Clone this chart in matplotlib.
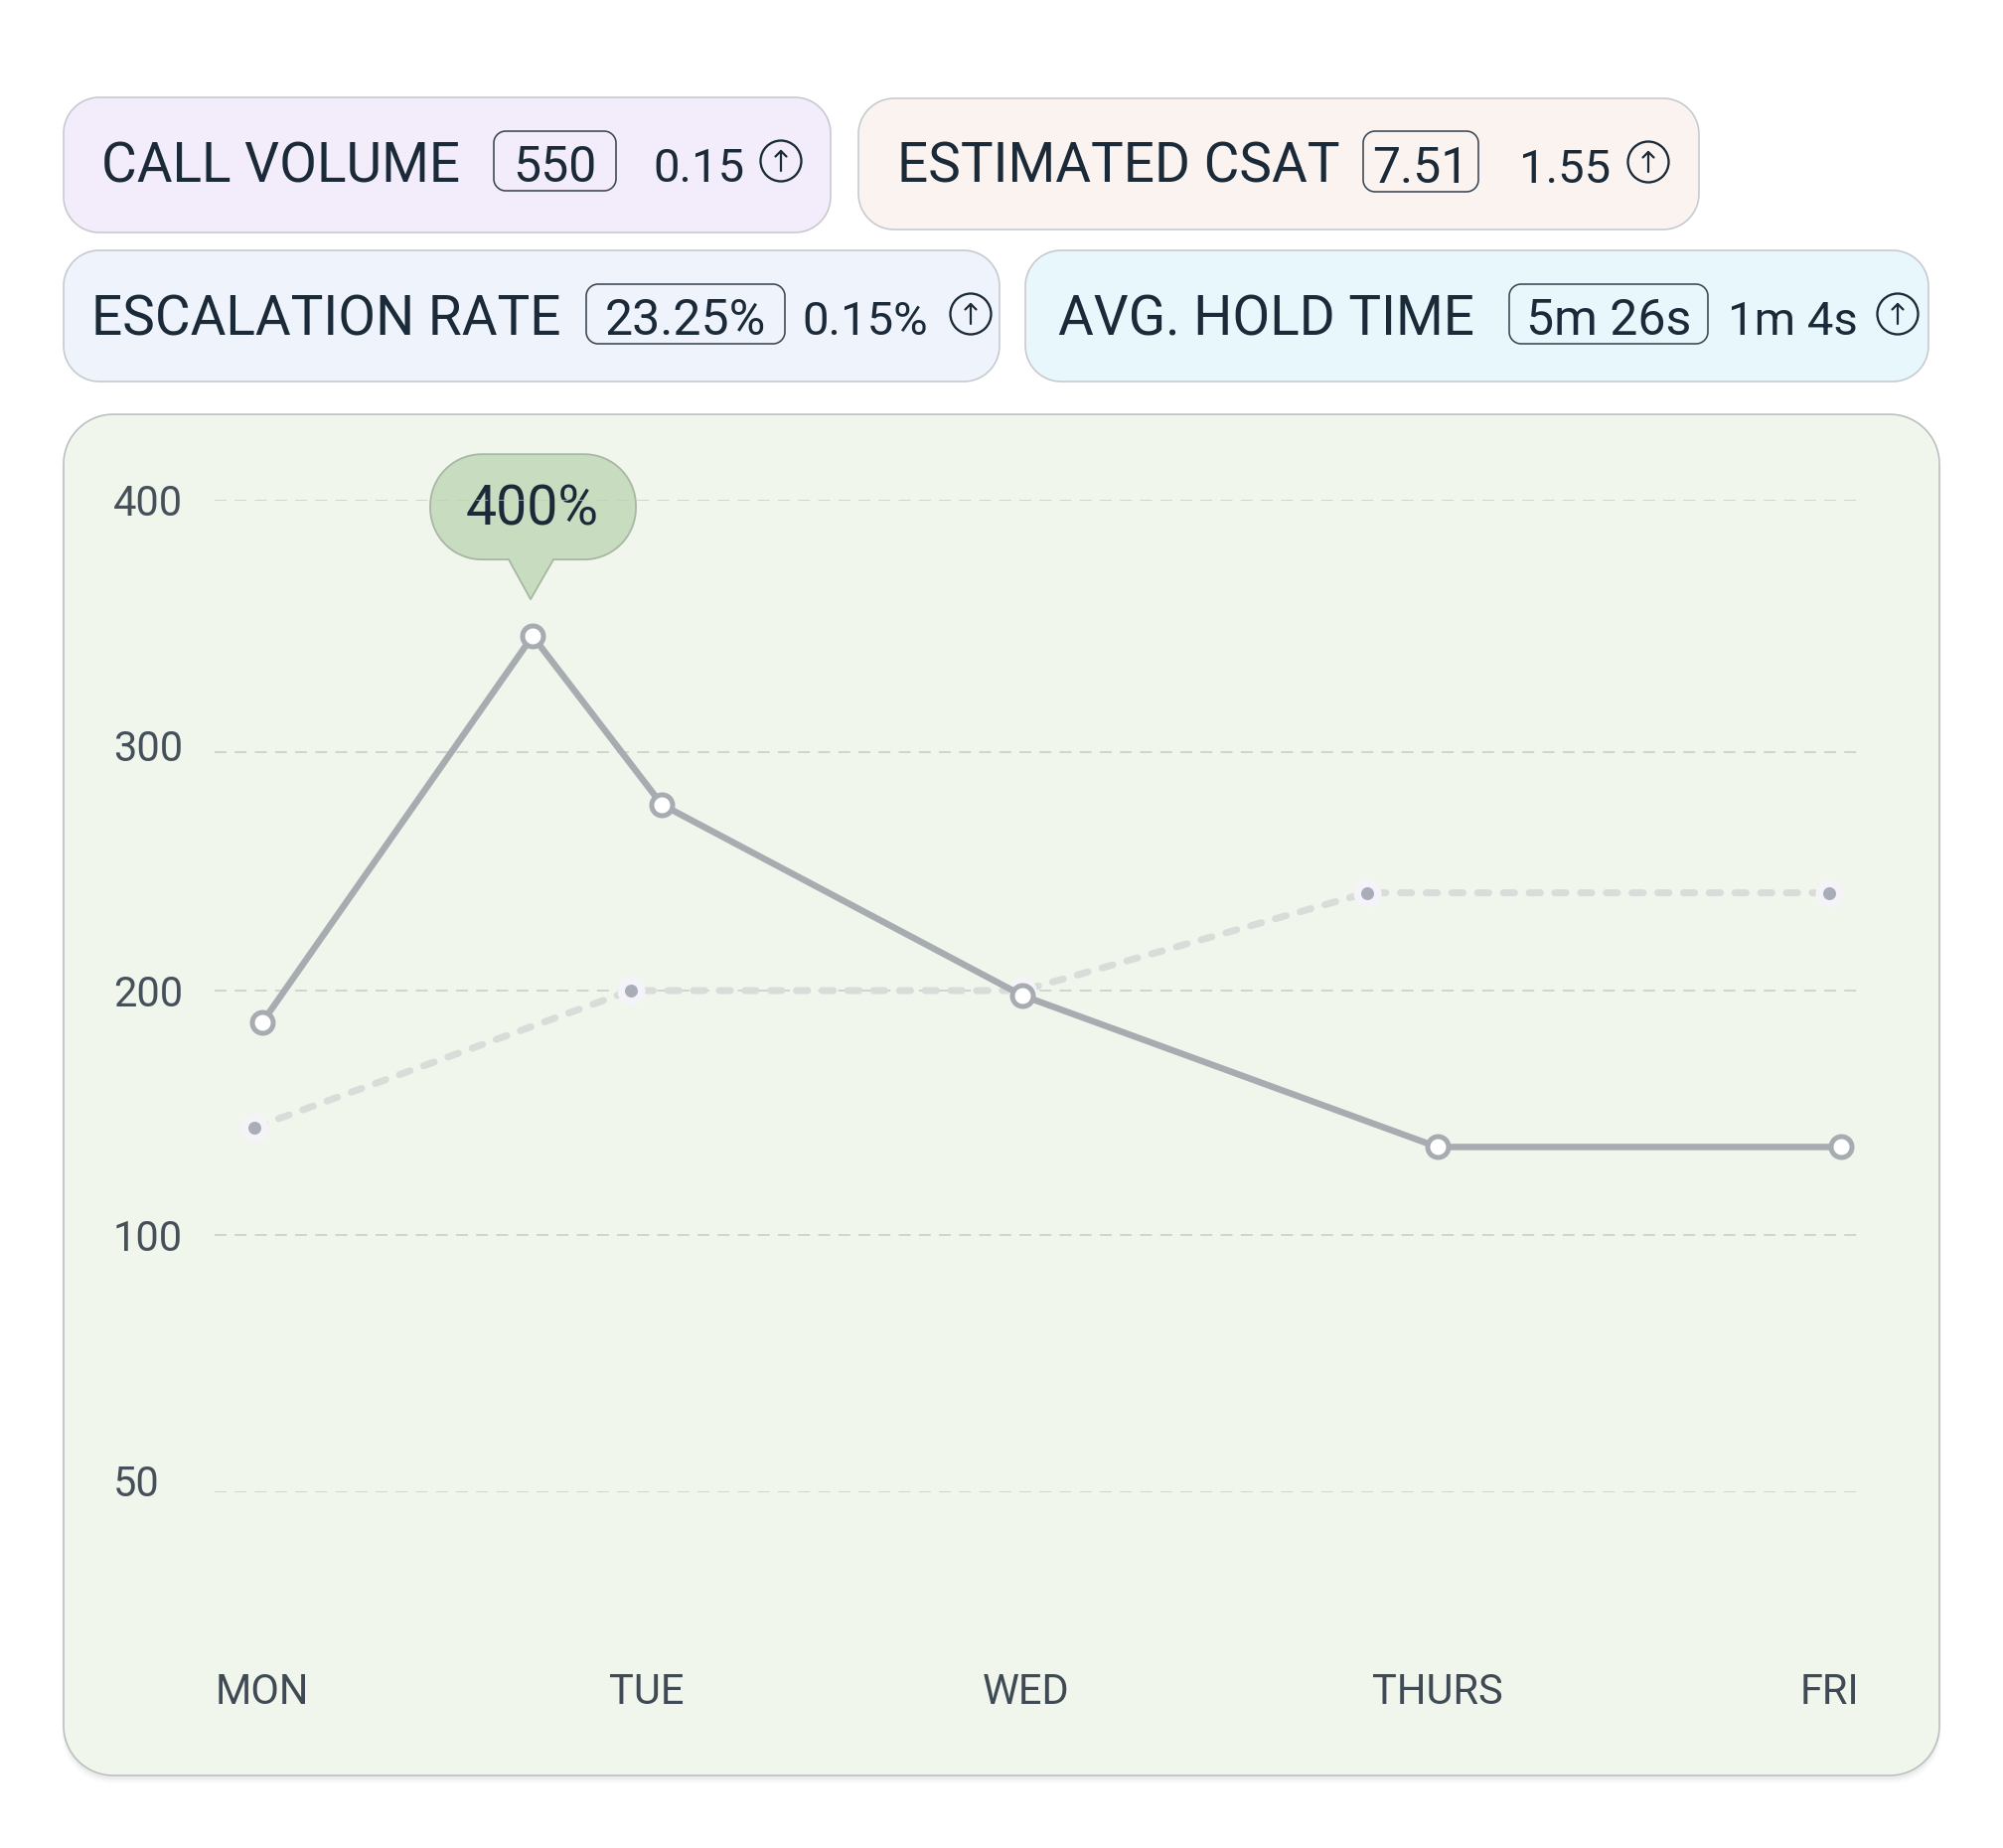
import numpy as np
import matplotlib
matplotlib.use('Agg')
import matplotlib.pyplot as plt
from matplotlib.patches import Polygon, Circle

plt.rcParams['font.family'] = ['Roboto', 'DejaVu Sans']

# ---------------- data ----------------
kpi_labels = ['CALL VOLUME', 'ESTIMATED CSAT', 'ESCALATION RATE', 'AVG. HOLD TIME']
kpi_values = ['550', '7.51', '23.25%', '5m 26s']
kpi_deltas = ['0.15', '1.55', '0.15%', '1m 4s']

days = ['MON', 'TUE', 'WED', 'THURS', 'FRI']
day_label_pos = [0.0, 0.98, 1.95, 3.0, 4.0]
y_ticks = [50, 100, 200, 300, 400]

main_x = [0.0, 0.69, 1.02, 1.94, 3.0, 4.03]
main_y = [187, 346, 278, 198, 136, 136]
dash_x = [-0.02, 0.94, 1.94, 2.82, 4.0]
dash_y = [144, 200, 200, 241, 241]
peak_label = '400%'

# ---------------- styles / layout (pixels) ----------------
W, H = 2016, 1860
TEXT = '#1b2a38'
PT = 0.72  # points per pixel at dpi 100

card_layout = [
    dict(box=(64, 98, 836, 234), fc='#f3ecfa', lx=102, vb=(497, 620), dx=657, icx=786, base=183, icy=162, vby=(132, 192)),
    dict(box=(864, 99, 1710, 231), fc='#fbf3ef', lx=903, vb=(1372, 1488), dx=1529, icx=1659, base=184, icy=163, vby=(132, 193)),
    dict(box=(64, 252, 1006, 384), fc='#eef3fc', lx=92, vb=(590, 790), dx=807, icx=977, base=337, icy=316, vby=(286, 346)),
    dict(box=(1032, 252, 1941, 384), fc='#e8f7fc', lx=1065, vb=(1519, 1719), dx=1739, icx=1910, base=337, icy=316, vby=(286, 346)),
]

fig = plt.figure(figsize=(W / 100, H / 100), dpi=100)
fig.patch.set_facecolor('white')

bg = fig.add_axes([0, 0, 1, 1], zorder=0)
bg.set_xlim(0, W)
bg.set_ylim(H, 0)
bg.axis('off')


def rrect_pts(x0, y0, x1, y1, r, pointer=None):
    """Rounded rectangle outline with circular corners; optional pointer on bottom edge."""
    r = min(r, (x1 - x0) / 2, (y1 - y0) / 2)
    pts = []
    corners = [(x1 - r, y0 + r, -90, 0), (x1 - r, y1 - r, 0, 90),
               (x0 + r, y1 - r, 90, 180), (x0 + r, y0 + r, 180, 270)]
    for i, (cx, cy, a0, a1) in enumerate(corners):
        t = np.radians(np.linspace(a0, a1, 24))
        pts.extend(zip(cx + r * np.cos(t), cy + r * np.sin(t)))
        if i == 1 and pointer is not None:
            bl, br, tx, ty = pointer
            pts.extend([(br, y1), (tx, ty), (bl, y1)])
    return np.array(pts)


def rbox(ax, x0, y0, x1, y1, r, fc, ec, lw, z=1, alpha=1.0, pointer=None):
    p = Polygon(rrect_pts(x0, y0, x1, y1, r, pointer), closed=True, fc=fc, ec=ec, lw=lw,
                zorder=z, alpha=alpha, joinstyle='round')
    ax.add_patch(p)
    return p


# KPI cards
for lab, val, dlt, L in zip(kpi_labels, kpi_values, kpi_deltas, card_layout):
    x0, y0, x1, y1 = L['box']
    rbox(bg, x0, y0, x1, y1, 36, L['fc'], '#c6c9cf', 1.6 * PT, z=1)
    bg.text(L['lx'], L['base'], lab, fontsize=39.5, color=TEXT, ha='left', va='baseline', zorder=3)
    vx0, vx1 = L['vb']
    vy0, vy1 = L['vby']
    rbox(bg, vx0, vy0, vx1, vy1, 12, 'none', '#3b4654', 1.6 * PT, z=2)
    bg.text((vx0 + vx1) / 2, L['base'], val, fontsize=36, color=TEXT, ha='center', va='baseline', zorder=3)
    bg.text(L['dx'], L['base'], dlt, fontsize=34, color=TEXT, ha='left', va='baseline', zorder=3)
    cx, cy = L['icx'], L['icy']
    bg.add_patch(Circle((cx, cy), 20.5, fill=False, ec=TEXT, lw=2.3 * PT, zorder=3))
    bg.plot([cx, cx], [cy + 10, cy - 10], color=TEXT, lw=2.2 * PT, solid_capstyle='round', zorder=3)
    bg.plot([cx - 5.5, cx, cx + 5.5], [cy - 4.5, cy - 10, cy - 4.5], color=TEXT, lw=2.2 * PT,
            solid_capstyle='round', solid_joinstyle='round', zorder=3)

# Chart panel with soft shadow
for i, a in enumerate([0.035, 0.025, 0.015]):
    rbox(bg, 64 - i, 417 + 4 + 2 * i, 1952 + i, 1787 + 4 + 2 * i, 50, '#000000', 'none', 0, z=0.5, alpha=a)
rbox(bg, 64, 417, 1952, 1787, 50, '#f0f6ec', '#b9bec0', 1.6 * PT, z=1)

# ---------------- chart axes ----------------
ax_left, ax_right = 216, 1869
ax_top, ax_bottom = 503, 1502
rect = [ax_left / W, 1 - ax_bottom / H, (ax_right - ax_left) / W, (ax_bottom - ax_top) / H]
ax = fig.add_axes(rect, zorder=2)
ax.patch.set_visible(False)

# value axis: grid rows are not evenly spaced in the source chart
grid_slot = [0.0, 1.037, 2.022, 2.983, 4.0]
ax.set_yscale('function', functions=(lambda v: np.interp(v, y_ticks, grid_slot),
                                     lambda s: np.interp(s, grid_slot, y_ticks)))
ax.set_ylim(y_ticks[0], y_ticks[-1])
px_per_day = (1841 - 264) / 4.0
ax.set_xlim((ax_left - 264) / px_per_day, (ax_right - 264) / px_per_day)

for s in ax.spines.values():
    s.set_visible(False)

for yt in y_ticks:
    ax.axhline(yt, color='#c6cbc6', lw=1.5 * PT, dashes=(8, 5.5), zorder=1)
ax.set_yticks([])

ax.set_xticks(day_label_pos)
ax.set_xticklabels(days)
ax.tick_params(axis='x', length=0, pad=(1715 - ax_bottom) * PT, labelsize=30, labelcolor='#3f4a55')
for t in ax.get_xticklabels():
    t.set_va('baseline')

# y labels are evenly distributed down the left side
lab_ax = fig.add_axes(rect, zorder=1)
lab_ax.patch.set_visible(False)
for s in lab_ax.spines.values():
    s.set_visible(False)
lab_ax.set_xticks([])
lab_step = 247.2
lab_ax.set_ylim(-(ax_bottom - 1490) / lab_step, (1490 - ax_top) / lab_step)
lab_ax.set_yticks(np.arange(len(y_ticks)))
lab_ax.set_yticklabels([str(v) for v in y_ticks])
lab_ax.tick_params(axis='y', length=0, pad=(ax_left - 114) * PT, labelsize=30, labelcolor='#46505a')
for t in lab_ax.get_yticklabels():
    t.set_ha('left')

# dashed comparison series
ax.plot(dash_x, dash_y, color='#d9dcd9', lw=7 * PT, dashes=(1.6, 2.1), dash_capstyle='round',
        zorder=3, clip_on=False)
ax.plot(dash_x, dash_y, ls='none', marker='o', ms=28 * PT, mfc='#f4f3fa', mec='none', zorder=4, clip_on=False)
ax.plot(dash_x, dash_y, ls='none', marker='o', ms=13 * PT, mfc='#a9adb7', mec='none', zorder=5, clip_on=False)

# main series
ax.plot(main_x, main_y, color='#a6acb0', lw=6.5 * PT, marker='o', ms=21 * PT, mfc='white',
        mec='#a6acb0', mew=5 * PT, zorder=6, clip_on=False, solid_joinstyle='round')

# tooltip above the peak
pk = int(np.argmax(main_y))
dx_, dy_ = ax.transData.transform((main_x[pk], main_y[pk]))
px, py = dx_, H - dy_
ttip_fc, ttip_ec = '#c8ddbf', '#a8b6a6'
rbox(bg, px - 103, py - 183, px + 104, py - 77, 52, ttip_fc, ttip_ec, 1.8 * PT, z=3,
     pointer=(px - 24, px + 21, px - 2, py - 37))
bg.text(px, py - 112, peak_label, fontsize=40, color=TEXT, ha='center', va='baseline', zorder=4)

fig.savefig('out.png', dpi=100, facecolor='white')
